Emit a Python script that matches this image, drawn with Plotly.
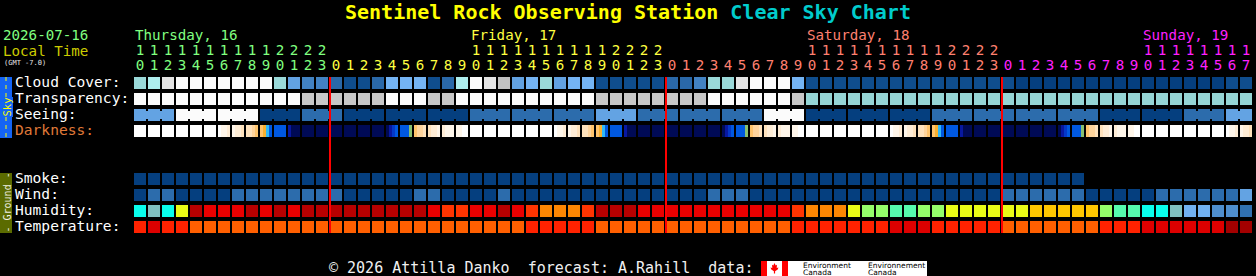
import plotly.graph_objects as go

# ---------------- chart data ----------------
TITLE_MAIN = "Sentinel Rock Observing Station"
TITLE_SUB = "Clear Sky Chart"
DATE_LABEL = "2026-07-16"
TIME_LABEL = "Local Time"
TZ_LABEL = "(GMT -7.0)"
FOOTER = "© 2026 Attilla Danko\u00a0\u00a0forecast: A.Rahill\u00a0\u00a0data:"

DAY_NAMES = ["Thursday, 16", "Friday, 17", "Saturday, 18", "Sunday, 19"]
DAY_COLORS = ["#80ff80", "#ffff40", "#ff8070", "#ff20ff"]

HOURS = [10, 11, 12, 13, 14, 15, 16, 17, 18, 19, 20, 21, 22, 23,
         0, 1, 2, 3, 4, 5, 6, 7, 8, 9, 10, 11, 12, 13, 14, 15, 16, 17, 18, 19, 20, 21, 22, 23,
         0, 1, 2, 3, 4, 5, 6, 7, 8, 9, 10, 11, 12, 13, 14, 15, 16, 17, 18, 19, 20, 21, 22, 23,
         0, 1, 2, 3, 4, 5, 6, 7, 8, 9, 10, 11, 12, 13, 14, 15, 16, 17]

SKY_LABELS = ["Cloud Cover:", "Transparency:", "Seeing:", "Darkness:"]
GROUND_LABELS = ["Smoke:", "Wind:", "Humidity:", "Temperature:"]

# cloud cover, percent
CLOUD_COVER = [60, 70, 90, 100, 100, 100, 100, 100, 100, 100, 60, 40, 30, 30,
               20, 10, 10, 20, 50, 50, 50, 10, 20, 70, 100, 90, 80, 40, 50, 60, 40, 50, 50, 10, 10, 10, 10, 10,
               20, 20, 30, 60, 60, 90, 100, 100, 100, 50, 10, 10, 10, 10, 10, 10, 10, 10, 10, 10, 10, 10, 10, 10,
               10, 0, 0, 0, 0, 0, 0, 0, 0, 0, 0, 0, 0, 0, 0, 0, 10, 10]
# transparency: 0 too cloudy, 1 poor, 2 below average
TRANSPARENCY = [0, 0, 0, 0, 0, 0, 0, 0, 0, 0, 0, 0, 1, 1,
                1, 1, 1, 1, 0, 0, 0, 1, 1, 0, 0, 0, 0, 0, 0, 0, 0, 0, 0, 1, 1, 1, 1, 1,
                1, 1, 1, 0, 0, 0, 0, 0, 0, 1, 2, 2, 2, 2, 2, 2, 2, 2, 2, 2, 2, 2, 2, 2,
                2, 2, 2, 2, 2, 2, 2, 2, 2, 2, 2, 2, 2, 2, 2, 2, 2, 2]
# seeing per 3-hour block: 0 too cloudy, 3..5 fifths
SEEING_3H = [3, 0, 0, 5, 4, 5, 5, 5, 4, 4, 4, 3, 4, 4, 4, 0, 5, 5, 5, 4, 4, 4, 4, 5, 5, 4, 3]
# darkness, 4 samples per hour (index into darkness scale, 0 = daylight, 13 = full dark)
DARKNESS_Q = [
    [0, 0, 0, 0], [0, 0, 0, 0], [0, 0, 0, 0], [0, 0, 0, 0], [0, 0, 0, 0], [0, 0, 0, 0],
    [0, 1, 1, 2], [1, 2, 2, 3], [3, 3, 4, 5], [5, 6, 7, 9], [9, 9, 9, 9], [11, 13, 13, 13],
    [13, 13, 13, 13], [13, 13, 13, 13],
    [13, 13, 13, 13], [13, 13, 13, 13], [13, 13, 13, 13], [13, 13, 13, 13], [13, 11, 10, 9],
    [9, 9, 9, 8], [5, 4, 4, 3], [3, 2, 2, 1], [2, 1, 1, 1], [1, 1, 0, 0],
    [0, 0, 0, 0], [0, 0, 0, 0], [0, 0, 0, 0], [0, 0, 0, 0], [0, 0, 0, 0], [0, 0, 0, 0],
    [0, 1, 1, 2], [1, 2, 2, 3], [3, 3, 4, 5], [5, 6, 7, 9], [9, 9, 9, 9], [11, 13, 13, 13],
    [13, 13, 13, 13], [13, 13, 13, 13],
    [13, 13, 13, 13], [13, 13, 13, 13], [13, 13, 13, 13], [13, 13, 13, 13], [13, 11, 10, 9],
    [9, 9, 9, 8], [5, 4, 4, 3], [3, 2, 2, 1], [2, 1, 1, 1], [1, 1, 0, 0],
    [0, 0, 0, 0], [0, 0, 0, 0], [0, 0, 0, 0], [0, 0, 0, 0], [0, 0, 0, 0], [0, 0, 0, 0],
    [0, 1, 1, 2], [1, 2, 2, 3], [3, 3, 4, 5], [5, 6, 7, 9], [9, 9, 9, 9], [11, 13, 13, 13],
    [13, 13, 13, 13], [13, 13, 13, 13],
    [13, 13, 13, 13], [13, 13, 13, 13], [13, 13, 13, 13], [13, 13, 13, 13], [13, 11, 10, 9],
    [9, 9, 9, 8], [5, 4, 4, 3], [3, 2, 2, 1], [2, 1, 1, 1], [1, 1, 0, 0],
    [0, 0, 0, 0], [0, 0, 0, 0], [0, 0, 0, 0], [0, 0, 0, 0], [0, 0, 0, 0], [0, 0, 0, 0],
    [0, 1, 1, 2], [1, 2, 2, 3],
]
SMOKE = [0, 0, 0, 0, 0, 0, 0, 0, 0, 0, 0, 0, 0, 0,
         0, 0, 0, 0, 0, 0, 0, 0, 0, 0, 0, 0, 0, 0, 0, 0, 0, 0, 0, 0, 0, 0, 0, 0,
         0, 0, 0, 0, 0, 0, 0, 0, 0, 0, 0, 0, 0, 0, 0, 0, 0, 0, 0, 0, 0, 0, 0, 0,
         0, 0, 0, 0, 0, 0]
# wind, mph
WIND = [3, 8, 8, 3, 3, 3, 3, 8, 8, 8, 8, 8, 8, 8,
        8, 3, 3, 3, 3, 3, 8, 8, 3, 3, 3, 3, 8, 3, 3, 3, 3, 3, 3, 3, 3, 3, 3, 3,
        3, 3, 3, 8, 8, 8, 3, 3, 3, 3, 3, 3, 3, 3, 3, 3, 3, 3, 3, 3, 3, 3, 3, 3,
        8, 8, 8, 8, 8, 8, 3, 3, 3, 3, 3, 8, 8, 8, 8, 8, 8, 14]
# relative humidity, percent
HUMIDITY = [52, 47, 52, 67, 92, 87, 87, 87, 92, 87, 92, 87, 92, 92,
            92, 92, 92, 92, 92, 92, 92, 87, 82, 82, 87, 87, 92, 87, 82, 77, 77, 77, 82, 92, 92, 92, 87, 87,
            87, 87, 87, 87, 87, 87, 87, 87, 87, 82, 77, 77, 77, 67, 62, 62, 57, 57, 62, 62, 67, 67, 67, 67,
            67, 67, 72, 72, 72, 72, 72, 62, 57, 57, 52, 52, 47, 42, 42, 37, 37, 32]
# temperature, deg C
TEMPERATURE = [27, 31, 27, 27, 23, 23, 23, 23, 23, 23, 23, 23, 23, 23,
               23, 23, 23, 23, 23, 23, 23, 23, 23, 23, 23, 23, 23, 23, 27, 27, 27, 27, 27, 23, 23, 23, 23, 23,
               23, 23, 23, 23, 23, 23, 23, 23, 23, 27, 27, 27, 27, 27, 27, 27, 31, 31, 31, 27, 27, 27, 27, 27,
               23, 23, 23, 23, 23, 23, 23, 27, 27, 27, 31, 31, 31, 31, 31, 31, 35, 35]

# ---------------- colour scales (style) ----------------
CLOUD_COLORS = {0: "#053f7f", 10: "#0f4d8d", 20: "#2a68a8", 30: "#4282c2", 40: "#62a2e2",
                50: "#74b4f4", 60: "#9ad9d9", 70: "#aeeeee", 80: "#c2c2c2", 90: "#e4e4e4", 100: "#fbfbfb"}
TRANSP_COLORS = ["#fbfbfb", "#c7c7c7", "#95d5d5", "#63a3e3", "#2c6cac", "#053f7f"]
SEEING_COLORS = ["#fbfbfb", "#c7c7c7", "#95d5d5", "#63a3e3", "#2c6cac", "#053f7f"]
DARK_COLORS = ["#ffffff", "#fff6ea", "#ffedd6", "#ffe2bc", "#ffd49c", "#ffc46c", "#f8b030",
               "#30b8f8", "#88c070", "#0058e0", "#0438c8", "#0818a0", "#000c78", "#000a55"]
SMOKE_COLORS = ["#053f7f"]
WIND_BINS = [(0, "#053f7f"), (6, "#2c6cac"), (12, "#63a3e3")]
HUM_BINS = [(0, "#08035d"), (25, "#0d4d8d"), (30, "#3070b0"), (35, "#4e8ece"), (40, "#71b1f1"),
            (45, "#80c0c0"), (50, "#09feed"), (55, "#55faad"), (60, "#94fe6a"), (65, "#eafb16"),
            (70, "#fec600"), (75, "#fc8602"), (80, "#fe3401"), (85, "#ea0000"), (90, "#b70000"),
            (95, "#e10000")]
TEMP_BINS = [(0, "#ff5f00"), (25, "#ff2200"), (29, "#dd0000"), (33, "#a30000")]


def binned(v, bins):
    c = bins[0][1]
    for lo, col in bins:
        if v >= lo:
            c = col
    return c


# ---------------- geometry (pixels) ----------------
W, H = 1256, 276
PITCH = 14.0
CELL = 12.0
X0 = 134.0
FONT = "DejaVu Sans Mono"
SKY_TOPS = [77, 93, 109, 125]
GROUND_TOPS = [173, 189, 205, 221]


def px2x(p):
    return (p - X0 - CELL / 2) / PITCH


def px(p):
    return p / W


N = len(HOURS)
day_of = []
d = 0
for i, h in enumerate(HOURS):
    if i > 0 and h == 0:
        d += 1
    day_of.append(d)

fig = go.Figure()


def row_bar(colors, top):
    n = len(colors)
    fig.add_trace(go.Bar(x=list(range(n)), y=[CELL] * n, base=[top] * n, width=CELL / PITCH,
                         marker=dict(color=colors, line=dict(width=0)),
                         hoverinfo="skip", showlegend=False))


row_bar([CLOUD_COLORS[v] for v in CLOUD_COVER], SKY_TOPS[0])
row_bar([TRANSP_COLORS[v] for v in TRANSPARENCY], SKY_TOPS[1])

seeing_hourly = [SEEING_3H[i // 3] for i in range(N)]
row_bar([SEEING_COLORS[v] for v in seeing_hourly], SKY_TOPS[2])
cx, cc = [], []
for i in range(N - 1):
    if i // 3 == (i + 1) // 3:
        cx.append(i + 0.5)
        cc.append(SEEING_COLORS[seeing_hourly[i]])
fig.add_trace(go.Bar(x=cx, y=[CELL - 4] * len(cx), base=[SKY_TOPS[2] + 2] * len(cx),
                     width=(PITCH - CELL) / PITCH, marker=dict(color=cc, line=dict(width=0)),
                     hoverinfo="skip", showlegend=False))

# darkness: quarter-hour sub-cells
dx, dc = [], []
qw = CELL / 4 / PITCH
for i, quarters in enumerate(DARKNESS_Q):
    for q, v in enumerate(quarters):
        dx.append(i - CELL / PITCH / 2 + (q + 0.5) * qw)
        dc.append(DARK_COLORS[v])
fig.add_trace(go.Bar(x=dx, y=[CELL] * len(dx), base=[SKY_TOPS[3]] * len(dx), width=qw,
                     marker=dict(color=dc, line=dict(width=0)), hoverinfo="skip", showlegend=False))

row_bar([SMOKE_COLORS[v] for v in SMOKE], GROUND_TOPS[0])
row_bar([binned(v, WIND_BINS) for v in WIND], GROUND_TOPS[1])
row_bar([binned(v, HUM_BINS) for v in HUMIDITY], GROUND_TOPS[2])
row_bar([binned(v, TEMP_BINS) for v in TEMPERATURE], GROUND_TOPS[3])

# midnight lines
for i, h in enumerate(HOURS):
    if h == 0:
        xm = i - CELL / PITCH / 2
        fig.add_trace(go.Scatter(x=[xm, xm], y=[SKY_TOPS[0], GROUND_TOPS[3] + CELL], mode="lines",
                                 line=dict(color="#ff0000", width=2), hoverinfo="skip", showlegend=False))

# hour digits
hcol = [DAY_COLORS[day_of[i]] for i in range(N)]
fig.add_trace(go.Scatter(x=list(range(N)), y=[51.5] * N, mode="text",
                         text=[str(h // 10) if h >= 10 else "" for h in HOURS],
                         textfont=dict(family=FONT, size=14.2, color=hcol),
                         textposition="middle center", hoverinfo="skip", showlegend=False))
fig.add_trace(go.Scatter(x=list(range(N)), y=[66.3] * N, mode="text",
                         text=[str(h % 10) for h in HOURS],
                         textfont=dict(family=FONT, size=14.2, color=hcol),
                         textposition="middle center", hoverinfo="skip", showlegend=False))

ann = []


def text(x_px, y_px, s, color, size=14.6, anchor="left", **kw):
    ann.append(dict(x=px(x_px), y=y_px, xref="paper", yref="y", text=s, showarrow=False,
                    xanchor=anchor, yanchor="middle", borderpad=0,
                    font=dict(family=kw.pop("family", FONT), size=size, color=color), **kw))


text(W / 2, 11.5, "<b><span style='color:#ffff00'>%s</span> <span style='color:#00cccc'>%s</span></b>"
     % (TITLE_MAIN, TITLE_SUB), "#ffff00", size=20, anchor="center")
text(1.5, 35, DATE_LABEL, DAY_COLORS[0], size=14.2)
text(1.5, 50.7, TIME_LABEL, "#cccc00", size=14.2)
text(2.5, 62.5, TZ_LABEL, "#e8e8e8", size=7)

# day names at first 10 o'clock of each day
for i, h in enumerate(HOURS):
    if h == 10:
        text(X0 + PITCH * i, 35, DAY_NAMES[day_of[i]], DAY_COLORS[day_of[i]], size=14.2)

for lab, top in zip(SKY_LABELS, SKY_TOPS):
    text(13.5, top + 4.3, lab, "#e07a38" if lab == "Darkness:" else "#ffffff")
for lab, top in zip(GROUND_LABELS, GROUND_TOPS):
    text(13.5, top + 4.5, lab, "#ffffff")

text(327.5, 267.7, FOOTER, "#f0f0f0", size=15)

# side bars
shapes = []
shapes.append(dict(type="rect", xref="paper", yref="y", x0=0, x1=px(12), y0=77, y1=138,
                   fillcolor="#1464f4", line=dict(width=0), layer="below"))
shapes.append(dict(type="line", xref="paper", yref="y", x0=px(6), x1=px(6), y0=77, y1=138,
                   line=dict(color="#ffff00", width=1, dash="4px,4px")))
text(6, 107.5, "Sky", "#ffff00", size=10.5, anchor="center", textangle=-90, bgcolor="#1464f4")
shapes.append(dict(type="rect", xref="paper", yref="y", x0=0, x1=px(12), y0=173, y1=233,
                   fillcolor="#5b6b00", line=dict(width=0), layer="below"))
text(6.5, 203, "-\u00a0Ground\u00a0-", "#f0f0e0", size=10, anchor="center", textangle=-90)

# data credit logo
shapes.append(dict(type="rect", xref="paper", yref="y", x0=px(761), x1=px(927), y0=261, y1=276,
                   fillcolor="#ffffff", line=dict(width=0)))
shapes.append(dict(type="rect", xref="paper", yref="y", x0=px(761), x1=px(767), y0=261, y1=276,
                   fillcolor="#ff0000", line=dict(width=0)))
shapes.append(dict(type="rect", xref="paper", yref="y", x0=px(782), x1=px(788), y0=261, y1=276,
                   fillcolor="#ff0000", line=dict(width=0)))
leaf = [(0, -5.5), (1.2, -3), (2.5, -3.8), (2.2, -0.5), (4, -1), (3.2, 1), (0.6, 2.8), (0.6, 5),
        (-0.6, 5), (-0.6, 2.8), (-3.2, 1), (-4, -1), (-2.2, -0.5), (-2.5, -3.8), (-1.2, -3)]
cxp, cyp = 774.5, 268.5
path = "M " + " L ".join("%f,%f" % (px(cxp + a), cyp + b) for a, b in leaf) + " Z"
shapes.append(dict(type="path", xref="paper", yref="y", path=path, fillcolor="#ff0000",
                   line=dict(width=0)))
for xx, l1 in ((801.5, "Environment"), (866.5, "Environnement")):
    text(xx, 265, l1, "#000000", size=7.5, family="DejaVu Sans")
    text(xx, 272, "Canada", "#000000", size=7.5, family="DejaVu Sans")

fig.update_layout(
    width=W, height=H, margin=dict(l=0, r=0, t=0, b=0),
    paper_bgcolor="#000000", plot_bgcolor="#000000",
    xaxis=dict(range=[px2x(0), px2x(W)], visible=False, fixedrange=True),
    yaxis=dict(range=[H, 0], visible=False, fixedrange=True),
    barmode="overlay", bargap=0, showlegend=False, hovermode=False,
    annotations=ann, shapes=shapes,
)

fig.write_html("out.html")
